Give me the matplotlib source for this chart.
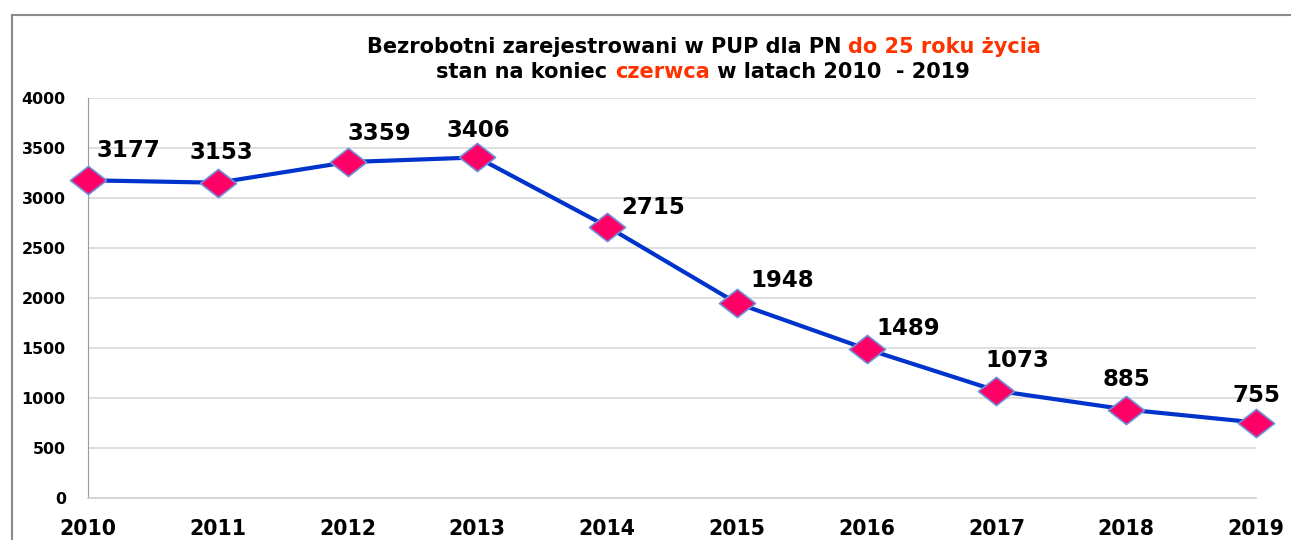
import numpy as np
import matplotlib
matplotlib.use("Agg")
import matplotlib.pyplot as plt
from matplotlib import font_manager as fm
from matplotlib.lines import Line2D
from matplotlib.path import Path

years = [2010, 2011, 2012, 2013, 2014, 2015, 2016, 2017, 2018, 2019]
values = [3177, 3153, 3359, 3406, 2715, 1948, 1489, 1073, 885, 755]
# label offsets in pixels (dx, dy) relative to each point
label_offsets = [(40, 30), (4, 30), (32, 29), (1, 27), (46, 19),
                 (45, 23), (42, 21), (21, 30), (0, 30), (0, 27)]

title_line1 = [("Bezrobotni zarejestrowani w PUP dla PN ", "black"),
               ("do 25 roku życia", "#FF3300")]
title_line2 = [("stan na koniec ", "black"), ("czerwca", "#FF3300"),
               (" w latach 2010  - 2019", "black")]

W, H = 1291, 540
fig = plt.figure(figsize=(W / 100, H / 100), dpi=100)
ax = fig.add_axes([88 / W, (H - 498) / H, (1256 - 88) / W, 400 / H])

ax.plot(years, values, color="#0033CC", lw=3, zorder=3, clip_on=False)
diamond = Path([(-1, 0), (0, 0.78), (1, 0), (0, -0.78), (-1, 0)],
               [Path.MOVETO, Path.LINETO, Path.LINETO, Path.LINETO, Path.CLOSEPOLY])
ax.plot(years, values, ls="none", marker=diamond, ms=26, mfc="#FF0066",
        mec="#6F8FD8", mew=1.2, zorder=4, clip_on=False)

for x, v, (dx, dy) in zip(years, values, label_offsets):
    ax.annotate(str(v), (x, v), xytext=(dx * 0.72, dy * 0.72), textcoords="offset points",
                ha="center", va="center", fontsize=16.5, fontweight="bold", zorder=5)

ax.set_xlim(2010, 2019)
ax.set_ylim(0, 4000)
ax.set_yticks(np.arange(0, 4001, 500))
ax.set_xticks(years)
ax.grid(axis="y", color="#D9D9D9", lw=1.2)
ax.set_axisbelow(True)
for s in ["top", "right"]:
    ax.spines[s].set_visible(False)
ax.spines["left"].set_color("#9A9A9A")
ax.spines["bottom"].set_color("#D0D0D0")
ax.spines["bottom"].set_linewidth(1.2)
ax.tick_params(axis="both", length=0)
ax.tick_params(axis="y", pad=16, labelsize=11.4)
ax.tick_params(axis="x", pad=15, labelsize=14.8)
for lab in ax.get_xticklabels() + ax.get_yticklabels():
    lab.set_fontweight("bold")

# outer chart frame
fig.add_artist(Line2D([12 / W, 12 / W], [0, 1 - 15 / H], color="#8A8A8A", lw=1.5,
                      transform=fig.transFigure))
fig.add_artist(Line2D([12 / W, 1], [1 - 15 / H, 1 - 15 / H], color="#8A8A8A", lw=1.5,
                      transform=fig.transFigure))

# title with coloured parts
names = {f.name for f in fm.fontManager.ttflist}
tfont = "Liberation Sans Narrow" if "Liberation Sans Narrow" in names else "DejaVu Sans"
renderer = fig.canvas.get_renderer()


def colored_line(parts, xc, y, size):
    texts = [fig.text(0, y, s, color=c, fontsize=size, fontweight="bold",
                      family=tfont, va="center", ha="left") for s, c in parts]
    widths = [t.get_window_extent(renderer).width for t in texts]
    x = xc - sum(widths) / 2
    for t, w in zip(texts, widths):
        t.set_x(x / W)
        x += w


colored_line(title_line1, 704, 1 - 47 / H, 15)
colored_line(title_line2, 703, 1 - 72 / H, 15)

fig.savefig("out.png", dpi=100)
